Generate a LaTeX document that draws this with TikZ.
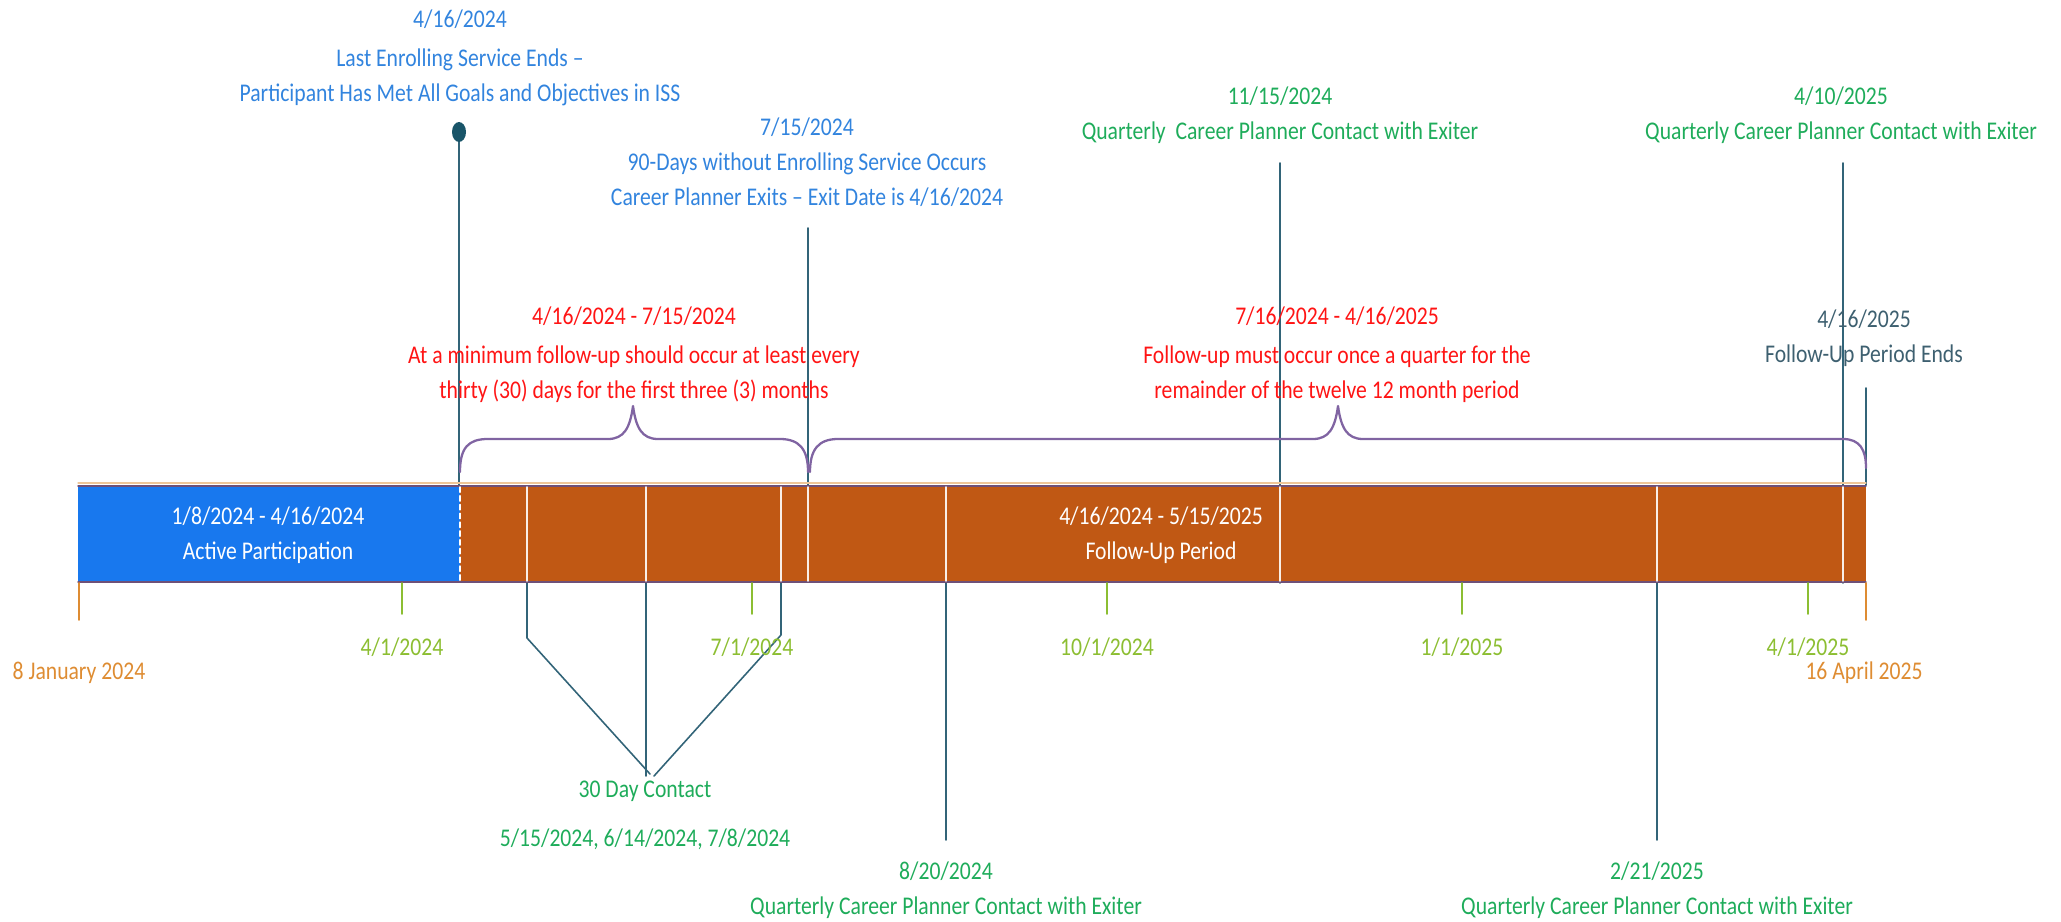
\documentclass[tikz,border=0pt]{standalone}
\usepackage{fontspec}
\setmainfont{Carlito}[FakeStretch=0.85]
\definecolor{barblue}{RGB}{24,120,238}
\definecolor{barorange}{RGB}{192,88,20}
\definecolor{stemteal}{RGB}{50,100,120}
\definecolor{dotteal}{RGB}{25,85,105}
\definecolor{bracepurple}{RGB}{128,100,162}
\definecolor{baredge}{RGB}{110,80,120}
\definecolor{txtblue}{RGB}{50,132,222}
\definecolor{txtgreen}{RGB}{30,172,90}
\definecolor{tickgreen}{RGB}{140,190,50}
\definecolor{txtorange}{RGB}{222,140,50}
\definecolor{txtred}{RGB}{255,20,20}
\definecolor{txtslate}{RGB}{62,96,112}
\tikzset{
  lbl/.style={align=center, inner sep=0pt, font=\fontsize{14.5}{20}\selectfont},
  stem/.style={draw=stemteal, line width=0.9pt},
  inbar/.style={draw=white!90!barorange, line width=0.9pt},
  bracket/.style={draw=bracepurple, line width=1.3pt},
}
\begin{document}
\begin{tikzpicture}[x=0.02cm, y=-0.02cm, line join=round, line cap=round]
  \useasboundingbox (0,0) rectangle (2061,922);
  % stem end points
  \coordinate (s0416) at (459,132);
  \coordinate (s0715) at (808,228);
  \coordinate (s1115) at (1280,163);
  \coordinate (s0410) at (1843,163);
  \coordinate (s0416e) at (1866,388);
  \coordinate (s0820) at (946,840);
  \coordinate (s0221) at (1657,840);
  \coordinate (c30) at (650,774);
  % stems
  \draw[stem] (s0416) -- (459,485);
  \draw[stem] (s0715) -- (808,485);
  \draw[stem] (s1115) -- (1280,583);
  \draw[stem] (s0410) -- (1843,583);
  \draw[stem] (s0416e) -- (1866,485);
  \draw[stem] (946,583) -- (s0820);
  \draw[stem] (1657,583) -- (s0221);
  \draw[stem] (527,583) -- (527,638) -- (c30);
  \draw[stem] (646,583) -- (646,776);
  \draw[stem] (781,583) -- (781,635) -- (654,776);
  \fill[dotteal] (s0416) ellipse (7 and 10);
  % bar
  \fill[barblue] (78,485) rectangle (460,583);
  \fill[barorange] (460,485) rectangle (1866,583);
  \draw[txtorange!50, line width=0.6pt] (78,483) -- (1866,483);
  \draw[baredge, line width=0.8pt] (78,486) -- (1866,486);
  \draw[baredge, line width=0.8pt] (78,582) -- (1866,582);
  \foreach \xx in {527,646,781,808,946,1280,1657,1843}
    \draw[inbar] (\xx,487) -- (\xx,581);
  \draw[white, line width=0.9pt, dash pattern=on 3pt off 2pt] (460,487) -- (460,581);
  % ticks
  \draw[txtorange, line width=0.9pt] (79,583) -- (79,620);
  \draw[txtorange, line width=0.9pt] (1866,583) -- (1866,620);
  \foreach \xx in {402,752,1107,1462,1808}
    \draw[tickgreen, line width=0.9pt] (\xx,583) -- (\xx,614);
  % braces
  \draw[bracket] (460,472) .. controls (460,448) and (468,439) .. (488,439) -- (608,439)
    .. controls (624,439) and (630,428) .. (633,406) .. controls (636,428) and (642,439) .. (658,439)
    -- (780,439) .. controls (800,439) and (808,450) .. (808,472);
  \draw[bracket] (810,472) .. controls (810,450) and (818,439) .. (838,439) -- (1313,439)
    .. controls (1329,439) and (1335,428) .. (1338,406) .. controls (1341,428) and (1347,439) .. (1363,439)
    -- (1843,439) .. controls (1860,439) and (1866,450) .. (1866,468);
  % labels above
  \node[lbl, text=txtblue] (t0416) at (460,58) {4/16/2024\\[2pt]Last Enrolling Service Ends --\\Participant Has Met All Goals and Objectives in ISS};
  \node[lbl, text=txtblue] (t0715) at (807,162) {7/15/2024\\90-Days without Enrolling Service Occurs\\Career Planner Exits -- Exit Date is 4/16/2024};
  \node[lbl, text=txtgreen] (t1115) at (1280,115) {11/15/2024\\Quarterly~ Career Planner Contact with Exiter};
  \node[lbl, text=txtgreen] (t0410) at (1841,115) {4/10/2025\\Quarterly Career Planner Contact with Exiter};
  \node[lbl, text=txtred] (r1) at (634,355) {4/16/2024 - 7/15/2024\\[2pt]At a minimum follow-up should occur at least every\\thirty (30) days for the first three (3) months};
  \node[lbl, text=txtred] (r2) at (1337,355) {7/16/2024 - 4/16/2025\\[2pt]Follow-up must occur once a quarter for the\\remainder of the twelve 12 month period};
  \node[lbl, text=txtslate] (t0416e) at (1864,338) {4/16/2025\\Follow-Up Period Ends};
  % labels in bar
  \node[lbl, text=white] (active) at (268,535) {1/8/2024 - 4/16/2024\\Active Participation};
  \node[lbl, text=white] (follow) at (1161,535) {4/16/2024 - 5/15/2025\\Follow-Up Period};
  % labels below
  \node[lbl, text=tickgreen] (m0401) at (402,647) {4/1/2024};
  \node[lbl, text=tickgreen] (m0701) at (752,647) {7/1/2024};
  \node[lbl, text=tickgreen] (m1001) at (1107,647) {10/1/2024};
  \node[lbl, text=tickgreen] (m0101) at (1462,647) {1/1/2025};
  \node[lbl, text=tickgreen] (m0401b) at (1808,647) {4/1/2025};
  \node[lbl, text=txtorange] (start) at (79,673) {8 January 2024};
  \node[lbl, text=txtorange] (stop) at (1864,673) {16 April 2025};
  \node[lbl, text=txtgreen] (t30) at (645,815) {30 Day Contact\\[8pt]5/15/2024, 6/14/2024, 7/8/2024};
  \node[lbl, text=txtgreen] (t0820) at (946,890) {8/20/2024\\Quarterly Career Planner Contact with Exiter};
  \node[lbl, text=txtgreen] (t0221) at (1657,890) {2/21/2025\\Quarterly Career Planner Contact with Exiter};
\end{tikzpicture}
\end{document}
